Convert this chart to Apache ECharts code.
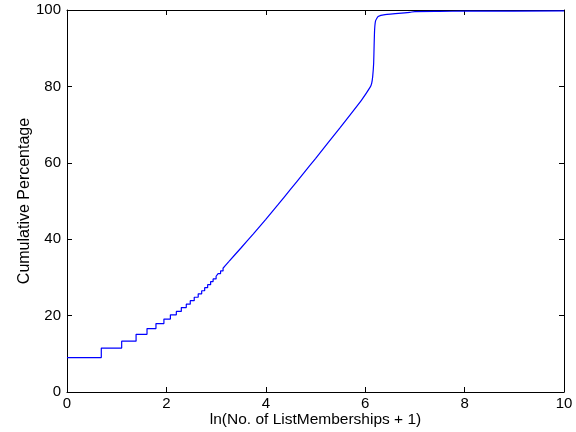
<!DOCTYPE html>
<html>
<head>
    <meta charset="UTF-8">
    <title>ListMemberships CDF</title>
    <script src="https://cdn.jsdelivr.net/npm/echarts@6/dist/echarts.min.js"></script>
    <style>
        html, body { margin: 0; padding: 0; background: #fff; }
        #main { width: 576px; height: 432px; }
    </style>
</head>
<body>
<div id="main"></div>
<script type="text/javascript">
    // stepped (discrete) part of the cumulative curve
    var stepX = [0, 0.69, 1.10, 1.39, 1.61, 1.79, 1.95, 2.08, 2.20, 2.30, 2.40, 2.48, 2.56, 2.64,
        2.71, 2.77, 2.83, 2.89, 2.94, 3.00, 3.04, 3.09, 3.14, 3.18, 3.22, 3.26];
    var stepY = [9.0, 11.5, 13.3, 15.1, 16.6, 17.9, 19.1, 20.2, 21.1, 22.1, 23.0, 23.9, 24.8, 25.7,
        26.5, 27.3, 28.1, 28.9, 29.6, 30.3, 31.0, 31.7, 32.4, 33.0, 33.6, 34.2];

    // smooth part, continues from the last step
    var curveX = [3.26, 3.50, 3.75, 4.00, 4.25, 4.50, 4.75, 5.00, 5.50, 5.93, 6.10, 6.13,
        6.15, 6.17, 6.18, 6.19, 6.21, 6.26, 6.40, 6.90, 7.00, 7.50, 8.00, 10.00];
    var curveY = [34.2, 37.7, 41.4, 45.2, 49.1, 53.1, 57.1, 61.1, 69.3, 76.5, 79.8, 80.8,
        82.5, 86.0, 91.0, 95.0, 97.2, 98.3, 98.8, 99.4, 99.6, 99.65, 99.7, 99.75];

    var xLabel = 'ln(No. of ListMemberships + 1)';
    var yLabel = 'Cumulative Percentage';

    function pairs(xs, ys) {
        var out = [];
        for (var i = 0; i < xs.length; i++) {
            out.push([xs[i], ys[i]]);
        }
        return out;
    }

    var font = 'Liberation Sans, Arial, sans-serif';
    var line = { show: true, onZero: false, lineStyle: { color: '#000', width: 1 } };
    var tick = { show: true, inside: true, length: 5, lineStyle: { color: '#000' } };

    var myChart = echarts.init(document.getElementById('main'));

    option = {
        animation: false,
        backgroundColor: '#fff',
        grid: { left: 67, right: 12, top: 10, bottom: 40, outerBoundsMode: 'none' },
        xAxis: [{
            type: 'value', min: 0, max: 10, interval: 2,
            name: xLabel, nameLocation: 'middle', nameGap: 20, nameMoveOverlap: false,
            nameTextStyle: { fontFamily: font, fontSize: 15.5, color: '#000' },
            axisLine: line, axisTick: tick,
            axisLabel: { margin: 4, fontFamily: font, fontSize: 15, color: '#000' },
            splitLine: { show: false }
        }, {
            type: 'value', min: 0, max: 10, interval: 2, position: 'top',
            axisLine: line, axisTick: tick,
            axisLabel: { show: false }, splitLine: { show: false }
        }],
        yAxis: [{
            type: 'value', min: 0, max: 100, interval: 20,
            name: yLabel, nameLocation: 'middle', nameGap: 34, nameMoveOverlap: false,
            nameTextStyle: { fontFamily: font, fontSize: 16, color: '#000' },
            axisLine: line, axisTick: tick,
            axisLabel: { margin: 6, fontFamily: font, fontSize: 15, color: '#000' },
            splitLine: { show: false }
        }, {
            type: 'value', min: 0, max: 100, interval: 20, position: 'right',
            axisLine: line, axisTick: tick,
            axisLabel: { show: false }, splitLine: { show: false }
        }],
        series: [{
            type: 'line',
            step: 'end',
            showSymbol: false,
            data: pairs(stepX, stepY),
            lineStyle: { color: '#0000ff', width: 1.2 },
            itemStyle: { color: '#0000ff' }
        }, {
            type: 'line',
            showSymbol: false,
            smooth: 0.15,
            data: pairs(curveX, curveY),
            lineStyle: { color: '#0000ff', width: 1.2 },
            itemStyle: { color: '#0000ff' }
        }]
    };

    myChart.setOption(option);
</script>
</body>
</html>
